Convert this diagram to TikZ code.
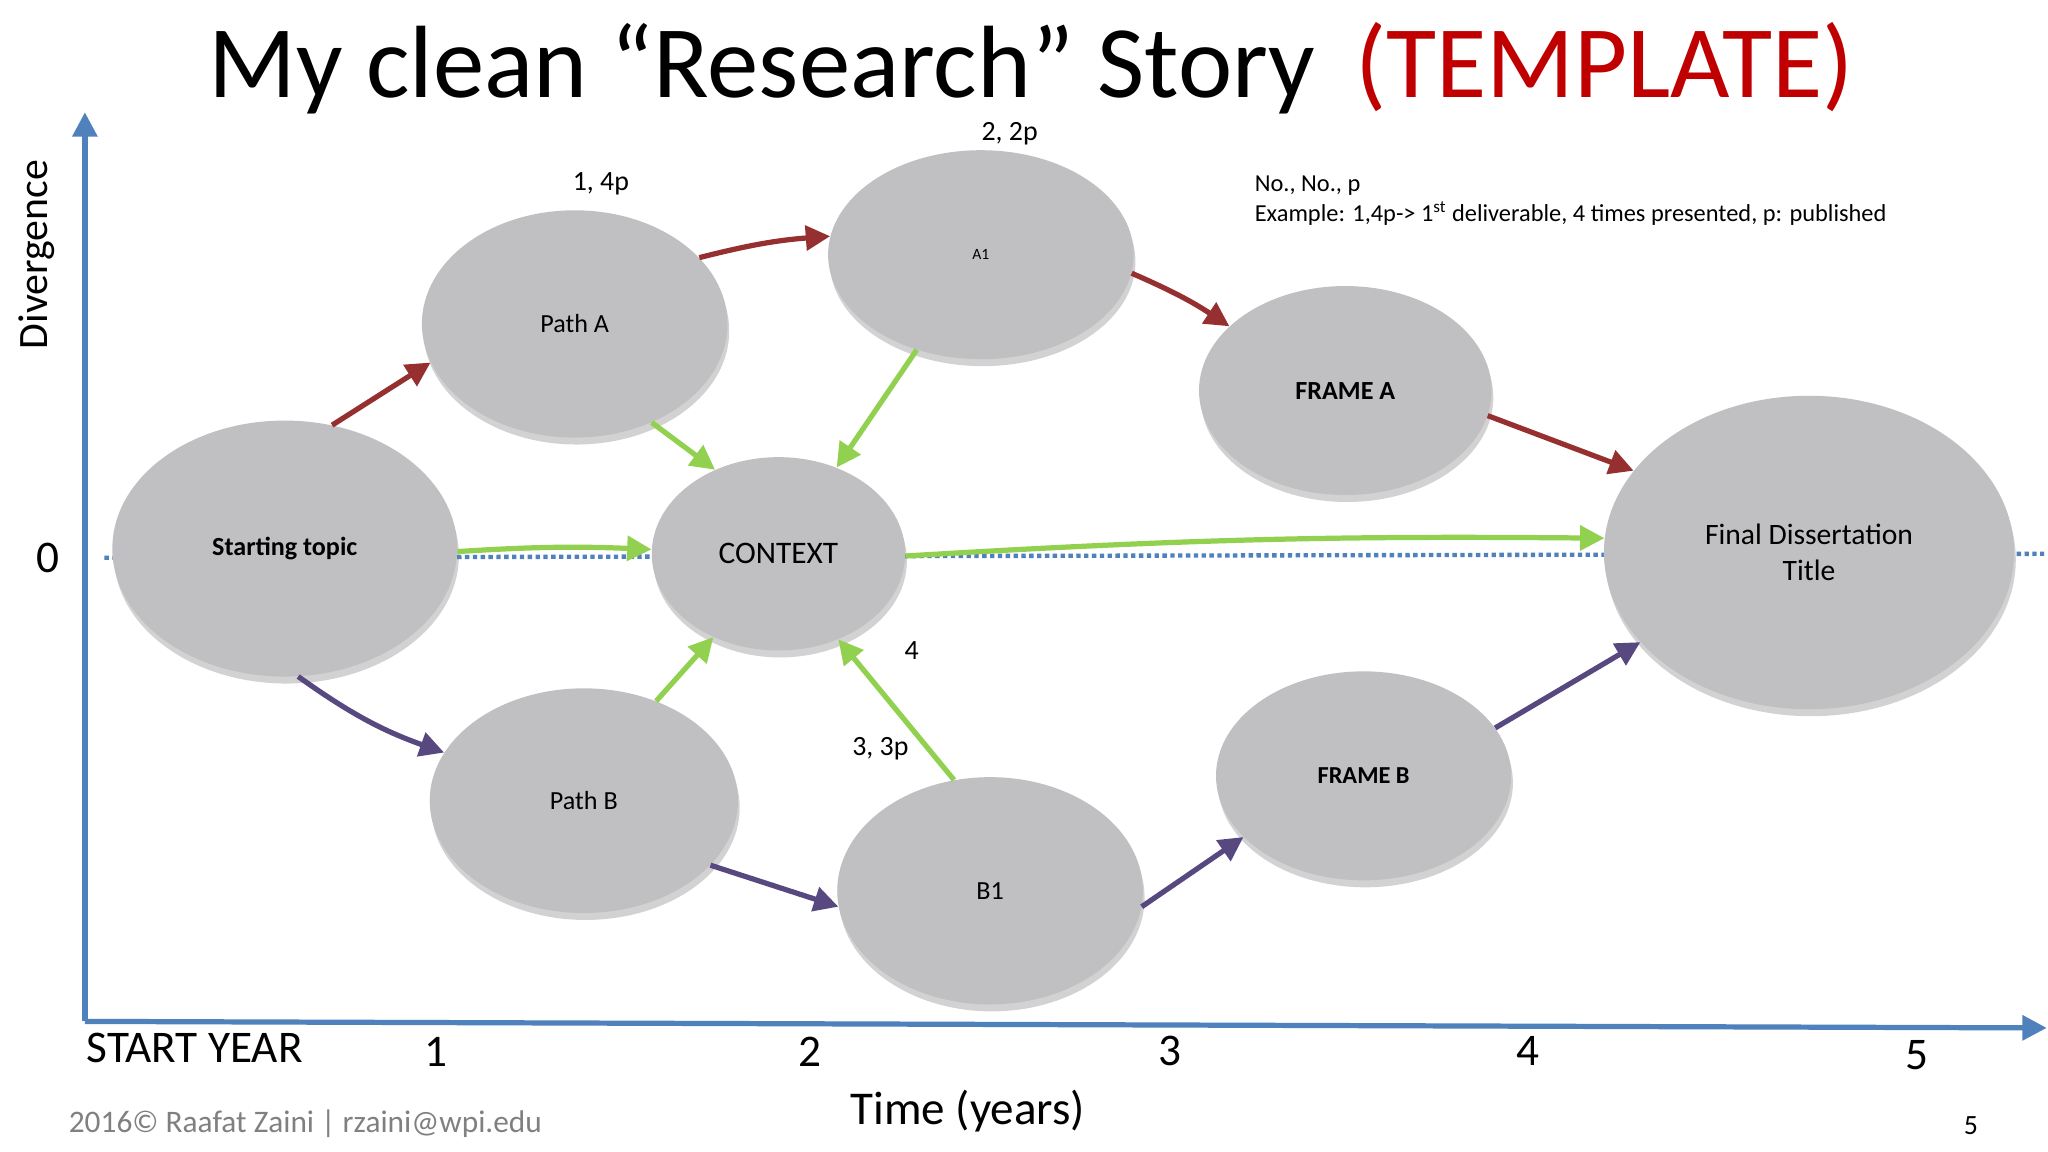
\documentclass[tikz,border=0pt]{standalone}
\usepackage{fontspec}
\setmainfont{Carlito}
\usetikzlibrary{shapes.geometric,shadows,arrows.meta}
\definecolor{ellgray}{RGB}{192,191,194}
\definecolor{axblue}{RGB}{79,129,189}
\definecolor{redc}{RGB}{150,48,48}
\definecolor{greenc}{RGB}{146,208,80}
\definecolor{purplec}{RGB}{88,72,128}
\definecolor{titlered}{RGB}{192,0,0}
\tikzset{
 bubble/.style={ellipse,fill=ellgray,inner sep=0pt,font=\fontsize{15}{18}\selectfont,align=center,
   drop shadow={shadow xshift=1pt,shadow yshift=-4pt,opacity=0.35,fill=gray}},
 con/.style={line width=3pt,-{Triangle[length=14pt,width=14pt]}},
 rc/.style={con,draw=redc},
 gc/.style={con,draw=greenc},
 pc/.style={con,draw=purplec},
 lab/.style={font=\fontsize{16}{19}\selectfont},
 axlab/.style={font=\fontsize{26}{30}\selectfont}
}
\begin{document}
\begin{tikzpicture}[x=0.75pt,y=-0.75pt]
\useasboundingbox[fill=white] (0,0) rectangle (1568,882);
% title
\node[font=\fontsize{59}{66}\selectfont,anchor=base west] (title) at (155,75) {My clean “Research” Story \textcolor{titlered}{\,(TEMPLATE)}};
% axes
\coordinate (o) at (65,782);
\coordinate (ytop) at (65,86);
\coordinate (xend) at (1567,787);
\draw[axblue,line width=3pt,-{Triangle[length=14pt,width=14pt]}] (o) -- (ytop);
\draw[axblue,line width=3pt,-{Triangle[length=14pt,width=14pt]}] (o) -- (xend);
\coordinate (d0) at (80,427);
\coordinate (d1) at (1565,424);
\draw[axblue,line width=2.5pt,dotted] (d0) -- (d1);
\node[rotate=90,font=\fontsize{24}{28}\selectfont] (div) at (28,195) {Divergence};
\node[font=\fontsize{26}{30}\selectfont] (zero) at (37,427) {0};
% ellipses
\node[bubble,minimum width=198pt,minimum height=147pt] (st) at (218,420) {\textbf{Starting topic}};
\node[bubble,minimum width=175.5pt,minimum height=130.5pt] (pa) at (440,248) {Path A};
\node[bubble,minimum width=175.5pt,minimum height=120pt] (a1) at (751,195) {\fontsize{9}{11}\selectfont A1};
\node[bubble,minimum width=145.5pt,minimum height=111pt,font=\fontsize{18}{22}\selectfont] (ctx) at (596,424) {CONTEXT};
\node[bubble,minimum width=168pt,minimum height=120pt] (fa) at (1030,299) {\textbf{FRAME A}};
\node[bubble,minimum width=235.5pt,minimum height=180pt,font=\fontsize{17}{21}\selectfont] (fin) at (1385,423) {Final Dissertation\\Title};
\node[bubble,minimum width=177pt,minimum height=129pt] (pb) at (447,613) {Path B};
\node[bubble,minimum width=175.5pt,minimum height=130.5pt] (b1) at (758,682) {B1};
\node[bubble,minimum width=169.5pt,minimum height=120pt,font=\fontsize{14}{17}\selectfont] (fb) at (1044,594) {\textbf{FRAME B}};
% red
\draw[rc] (st.69) -- (pa.195);
\draw[rc] (pa.28) to[bend left=5] (a1.173);
\draw[rc] (a1.-7) to[bend left=5] (fa.151);
\draw[rc] (fa.-10) -- (fin.155);
% green
\draw[gc] (pa.-52) -- (ctx.127);
\draw[gc] (a1.-124) -- (ctx.56);
\draw[gc] (st.-1) to[bend left=3] (ctx.178);
\draw[gc] (ctx.-1) to[bend left=2] (fin.176);
\draw[gc] (pb.54) -- (ctx.-128);
\draw[gc] (b1.108) -- (ctx.-55);
% purple
\draw[pc] (st.-84) to[bend right=8] (pb.161);
\draw[pc] (pb.-27) -- (b1.186);
\draw[pc] (b1.-6) -- (fb.207);
\draw[pc] (fb.20) -- (fin.208);
% labels
\node[lab] (l1) at (460,141) {1, 4p};
\node[lab] (l2) at (773,102) {2, 2p};
\node[lab] (l3) at (674,573) {3, 3p};
\node[lab] (l4) at (698,498) {4};
\node[font=\fontsize{14}{17}\selectfont,anchor=north west,align=left] (note) at (956,130) {No., No., p\\Example: 1,4p-> 1\textsuperscript{st} deliverable, 4 times presented, p: published};
% axis labels
\node[axlab] (sy) at (149,802) {START YEAR};
\node[axlab] (t1) at (334,805) {1};
\node[axlab] (t2) at (620,805) {2};
\node[axlab] (t3) at (896,805) {3};
\node[axlab] (t4) at (1170,805) {4};
\node[axlab] (t5) at (1468,808) {5};
\node[font=\fontsize{27}{32}\selectfont] (tm) at (741,851) {Time (years)};
\node[font=\fontsize{18}{22}\selectfont,text=gray,anchor=west] (ft) at (48,860) {2016© Raafat Zaini | rzaini@wpi.edu};
\node[font=\fontsize{16}{19}\selectfont] (pg) at (1509,862) {5};
\end{tikzpicture}
\end{document}
